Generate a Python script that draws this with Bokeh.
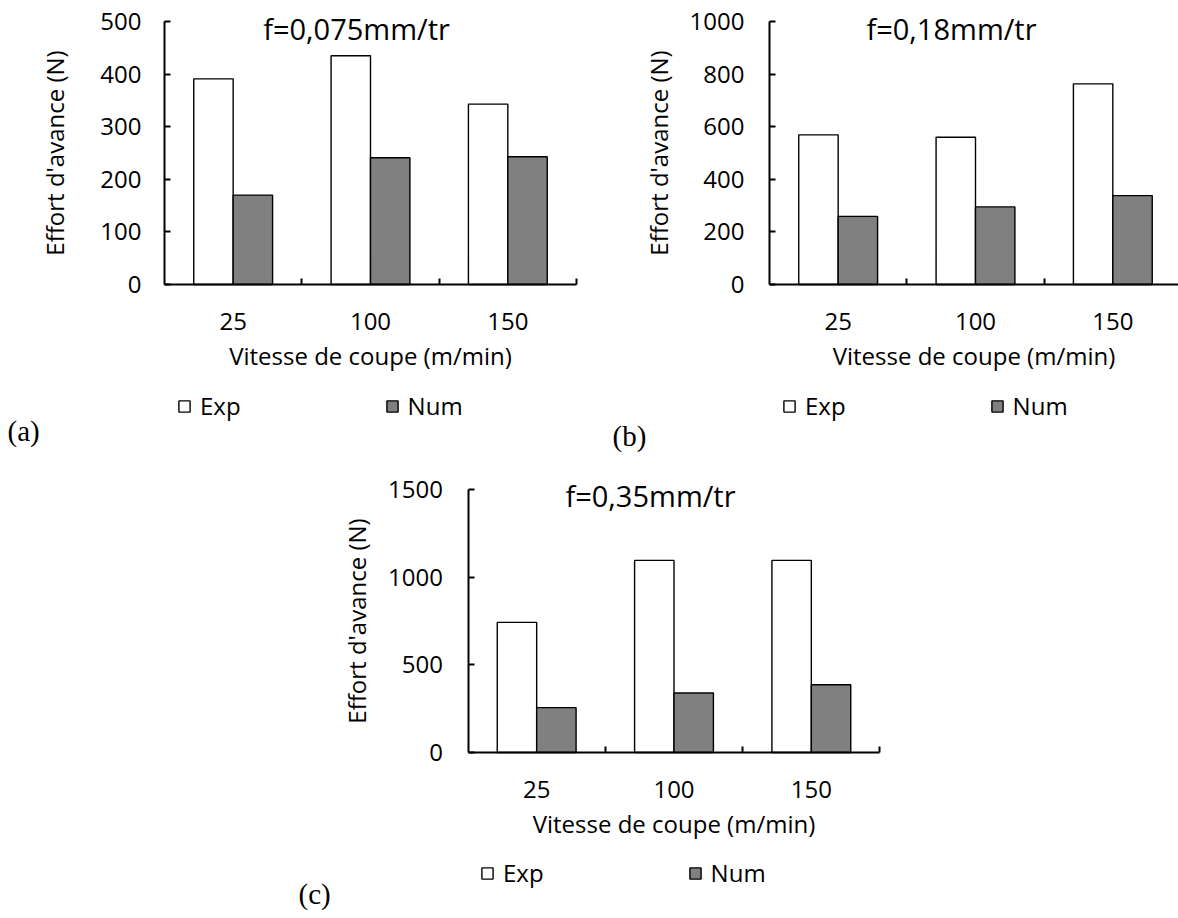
import numpy as np
from bokeh.plotting import figure
from bokeh.models import Range1d, FixedTicker, Legend, LegendItem, Label, Spacer
from bokeh.layouts import row, column
from bokeh.embed import file_html
from bokeh.resources import INLINE

# ---------------- data ----------------
speeds = ["25", "100", "150"]
series_names = ["Exp", "Num"]

exp_a = [391, 435, 343]
num_a = [170, 241, 243]
yticks_a = [0, 100, 200, 300, 400, 500]
title_a = "f=0,075mm/tr"

exp_b = [569, 560, 763]
num_b = [259, 295, 338]
yticks_b = [0, 200, 400, 600, 800, 1000]
title_b = "f=0,18mm/tr"

exp_c = [743, 1097, 1097]
num_c = [256, 340, 387]
yticks_c = [0, 500, 1000, 1500]
title_c = "f=0,35mm/tr"

x_title = "Vitesse de coupe (m/min)"
y_title = "Effort d'avance (N)"

FONT = "Open Sans"
CAT = 137.33      # pixels per category
BAR_W = 0.287     # bar width in category units


def make_panel(exp, num, yticks, title, tag, W, H, x0, y0, ytop,
               title_xy, legend_xy, tag_xy, ylab_standoff, ytick_standoff):
    ymax = yticks[-1]
    ppu = (y0 - ytop) / ymax
    p = figure(width=W, height=H, min_border=0,
               x_range=Range1d(-x0 / CAT, (W - x0) / CAT),
               y_range=Range1d(-(H - y0) / ppu, y0 / ppu),
               output_backend="svg", toolbar_location=None, tools="")
    p.xgrid.visible = False
    p.ygrid.visible = False
    p.outline_line_color = None

    n = len(speeds)
    centers = np.arange(n) + 0.5
    bounds = [float(b) for b in range(1, n + 1)]

    r_exp = p.vbar(x=centers - BAR_W / 2, top=exp, bottom=0, width=BAR_W,
                   fill_color="white", line_color="black", line_width=1.4)
    r_num = p.vbar(x=centers + BAR_W / 2, top=num, bottom=0, width=BAR_W,
                   fill_color="#808080", line_color="black", line_width=1.4)

    xa = p.xaxis[0]
    xa.fixed_location = 0
    xa.bounds = (0, n)
    xa.ticker = FixedTicker(ticks=list(centers), minor_ticks=bounds)
    xa.major_label_overrides = {float(c): s for c, s in zip(centers, speeds)}
    xa.major_tick_in = 0
    xa.major_tick_out = 0
    xa.minor_tick_in = 6
    xa.minor_tick_out = 0
    xa.minor_tick_line_width = 2
    xa.major_label_standoff = 28
    xa.axis_label = x_title
    xa.axis_label_standoff = 6

    ya = p.yaxis[0]
    ya.fixed_location = 0
    ya.bounds = (0, ymax)
    ya.ticker = FixedTicker(ticks=yticks, minor_ticks=[])
    ya.major_tick_in = 6
    ya.major_tick_out = 0
    ya.major_tick_line_width = 2
    ya.minor_tick_in = 0
    ya.minor_tick_out = 0
    ya.major_label_standoff = ytick_standoff
    ya.axis_label = y_title
    ya.axis_label_standoff = ylab_standoff

    for ax in (xa, ya):
        ax.axis_line_width = 2
        ax.axis_line_color = "black"
        ax.major_tick_line_color = "black"
        ax.minor_tick_line_color = "black"
        ax.major_label_text_font = FONT
        ax.major_label_text_font_size = "24px"
        ax.major_label_text_color = "black"
        ax.axis_label_text_font = FONT
        ax.axis_label_text_font_size = "24px"
        ax.axis_label_text_font_style = "normal"
        ax.axis_label_text_color = "black"

    p.add_layout(Label(x=title_xy[0], y=title_xy[1], x_units="screen", y_units="screen",
                       text=title, text_align="center", text_baseline="middle",
                       text_font=FONT, text_font_size="29px", text_color="black"))

    legend = Legend(items=[LegendItem(label=series_names[0], renderers=[r_exp]),
                           LegendItem(label=series_names[1], renderers=[r_num])],
                    orientation="horizontal", location=legend_xy,
                    border_line_color=None, background_fill_alpha=0,
                    padding=0, margin=0, spacing=144,
                    glyph_width=14, glyph_height=14, label_standoff=9,
                    label_text_font=FONT, label_text_font_size="24px",
                    label_text_color="black")
    p.add_layout(legend)

    p.add_layout(Label(x=tag_xy[0], y=tag_xy[1], x_units="screen", y_units="screen",
                       text=tag, text_align="left", text_baseline="middle",
                       text_font="Liberation Serif", text_font_size="29px",
                       text_color="black"))
    return p


pa = make_panel(exp_a, num_a, yticks_a, title_a, "(a)",
                590, 460, 164, 284, 21,
                (356, 432), (177, 38), (7, 30), 26, 23)
pb = make_panel(exp_b, num_b, yticks_b, title_b, "(b)",
                588, 460, 179, 284, 21,
                (361, 432), (192, 38), (22, 25), 12, 25)
pc = make_panel(exp_c, num_c, yticks_c, title_c, "(c)",
                610, 456, 177.5, 292, 29.3,
                (360, 421), (190, 27), (8, 23), 13, 25)

layout = column(row(pa, pb), row(Spacer(width=290, height=456), pc))

open("out.html", "w").write(file_html(layout, INLINE))
